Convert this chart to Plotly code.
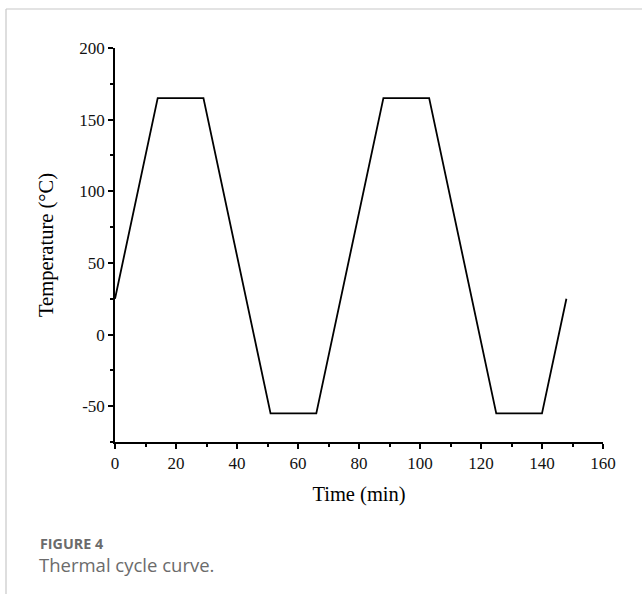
import plotly.graph_objects as go

# Thermal cycle profile: time (min) vs temperature (°C)
time_min = [0, 14, 29, 51, 66, 88, 103, 125, 140, 148]
temp_c = [25, 165, 165, -55, -55, 165, 165, -55, -55, 25]

x_ticks = [0, 20, 40, 60, 80, 100, 120, 140, 160]
y_ticks = [-50, 0, 50, 100, 150, 200]
y_tick_text = ["-50", "0", "50", "100", "150", "200"]

W, H = 642, 594
L, R, T, B = 115, 39, 48, 152
pw, ph = W - L - R, H - T - B


def px(xp):
    return (xp - L) / pw


def py(yp):
    return (H - B - yp) / ph


fig = go.Figure()
fig.add_trace(go.Scatter(x=time_min, y=temp_c, mode="lines",
                         line=dict(color="black", width=1.8),
                         showlegend=False, hoverinfo="skip"))

serif = "Liberation Serif, Times New Roman, serif"
axis_common = dict(showline=True, linecolor="black", linewidth=1.6,
                   ticks="outside", ticklen=5, tickwidth=1.6, tickcolor="black",
                   showgrid=False, zeroline=False, mirror=False,
                   tickfont=dict(family=serif, size=17, color="#111111"))

fig.update_xaxes(range=[0, 160], tickmode="array", tickvals=x_ticks,
                 title=dict(text="Time (min)", font=dict(family=serif, size=20.5, color="black"), standoff=14),
                 minor=dict(tickmode="array", tickvals=[10, 30, 50, 70, 90, 110, 130, 150],
                            ticklen=3, tickwidth=1.6, tickcolor="black", ticks="outside"),
                 **axis_common)
fig.update_yaxes(range=[-75, 200], tickmode="array", tickvals=y_ticks, ticktext=y_tick_text,
                 title=dict(text="Temperature (°C)", font=dict(family=serif, size=20.5, color="black"), standoff=20),
                 minor=dict(tickmode="array", tickvals=[-75, -25, 25, 75, 125, 175],
                            ticklen=3, tickwidth=1.6, tickcolor="black", ticks="outside"),
                 **axis_common)

# card border (top and left edges)
border = dict(color="#c8c8c8", width=1.2)
fig.add_shape(type="line", xref="paper", yref="paper", x0=px(6), x1=px(W + 5), y0=py(9), y1=py(9), line=border)
fig.add_shape(type="line", xref="paper", yref="paper", x0=px(6), x1=px(6), y0=py(9), y1=py(H + 5), line=border)

sans = "Open Sans, Noto Sans, sans-serif"
fig.add_annotation(text="<b>FIGURE 4</b>", xref="paper", yref="paper", x=px(39), y=py(543),
                   xanchor="left", yanchor="middle", showarrow=False, borderpad=0,
                   font=dict(family=sans, size=14.3, color="#6b6b6b"))
fig.add_annotation(text="Thermal cycle curve.", xref="paper", yref="paper", x=px(38), y=py(564),
                   xanchor="left", yanchor="middle", showarrow=False, borderpad=0,
                   font=dict(family=sans, size=18.5, color="#6b6b6b"))

fig.update_layout(width=W, height=H, margin=dict(l=L, r=R, t=T, b=B),
                  paper_bgcolor="white", plot_bgcolor="white")

fig.write_html("out.html")
